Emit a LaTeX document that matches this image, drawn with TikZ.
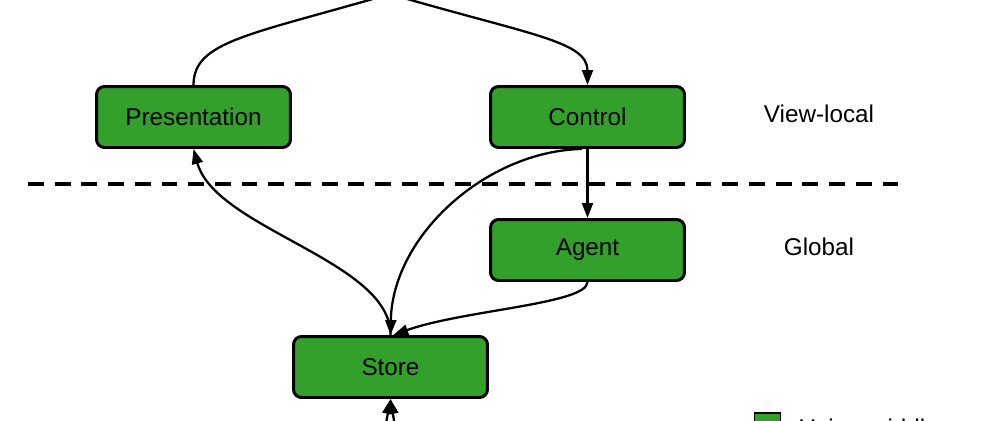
\documentclass[tikz,border=0pt]{standalone}
\usepackage{fontspec}
\setmainfont{Liberation Sans}
\usepackage{xcolor}
\usepackage{tikz}
\usetikzlibrary{arrows.meta,positioning}
\definecolor{mgreen}{HTML}{33A02C}
\tikzset{
  >={Triangle[length=8.5pt,width=6.2pt]},
  mbox/.style={rounded corners=0.16cm, draw=black, fill=mgreen, line width=1.7pt,
               minimum width=3.88cm, minimum height=1.22cm, inner sep=2pt,
               font=\fontsize{13.8}{16}\selectfont},
  mlbl/.style={font=\fontsize{13.8}{16}\selectfont},
  mflow/.style={->, black, line width=1.3pt},
  mline/.style={black, line width=1.3pt},
  msplit/.style={black, line width=2.3pt, dash pattern=on 9pt off 6.2pt},
  mkey/.style={draw=black, fill=mgreen, line width=1.1pt, minimum size=0.52cm, inner sep=0pt},
}
\begin{document}
\begin{tikzpicture}[x=0.02cm, y=-0.02cm]
  \useasboundingbox (0,0) rectangle (1000,420);

  % caixas
  \node[mbox] (pres)  at (193.5,117) {Presentation};
  \node[mbox] (ctrl)  at (587.5,117) {Control};
  \node[mbox] (agent) at (587.5,250) {Agent};
  \node[mbox] (store) at (390.5,367) {Store};

  % camadas
  \node[mlbl] (vlocal) at (819,114) {View-local};
  \node[mlbl] (global) at (819,247) {Global};
  \coordinate (dl) at (28,184);
  \coordinate (dr) at (900,184);
  \draw[msplit] (dl) -- (dr);

  % pontos fora da figura
  \coordinate (src) at (390,-6);
  \coordinate (inA) at (382,445);
  \coordinate (inB) at (398,445);

  % fluxo
  \draw[mline] (pres.north) .. controls +(0,-44) and +(-140,41) .. (src);
  \draw[mflow] (src) .. controls +(140,41) and +(0,-44) .. (ctrl.north);
  \draw[mflow] (store.north) .. controls +(1,-74) and +(22,80) .. (pres.south);
  \draw[mflow] (ctrl.260) .. controls +(-95,2) and +(2,-100) .. (store.north);
  \draw[mflow] (ctrl.south) -- (agent.north);
  \draw[mflow] (agent.south) .. controls +(0,22) and +(70,-25) .. (store.85);
  \draw[mflow] (inA) -- (store.south);
  \draw[mflow] (inB) -- (store.south);

  % legenda
  \node[mkey] (key) at (767.5,426) {};
  \node[mlbl, right=0.22cm of key, yshift=-0.08cm] (keytxt) {Using middleware};

\end{tikzpicture}
\end{document}
